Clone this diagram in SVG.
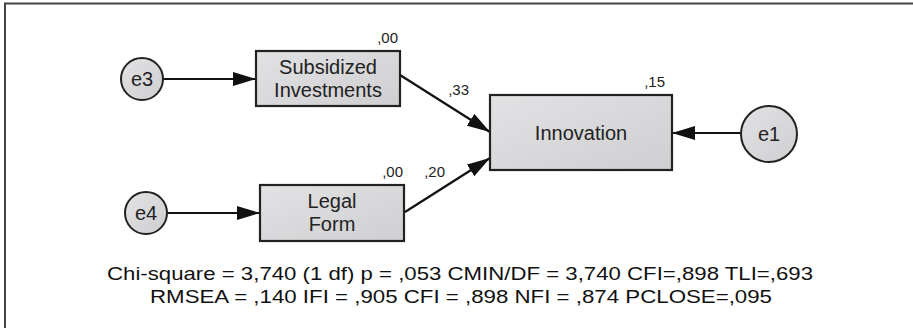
<svg xmlns="http://www.w3.org/2000/svg" width="913" height="328" viewBox="0 0 913 328">
<style>
.box{fill:url(#g);stroke:#222;stroke-width:2.2}
.err{fill:url(#g);stroke:#222;stroke-width:2}
.lbl{font-family:"Liberation Sans",Arial,sans-serif;font-size:20px;fill:#222;text-anchor:middle}
.num{font-family:"Liberation Sans",Arial,sans-serif;font-size:15px;fill:#222;text-anchor:end}
.fit{font-family:"Liberation Sans",Arial,sans-serif;font-size:19px;fill:#111;text-anchor:middle}
.con{stroke:#111;stroke-width:2.2;fill:none;marker-end:url(#ah)}
</style>
<defs>
<linearGradient id="g" x1="0" y1="0" x2="1" y2="1">
<stop offset="0" stop-color="#e2e2e4"/>
<stop offset="1" stop-color="#cfcfd1"/>
</linearGradient>
<marker id="ah" markerUnits="userSpaceOnUse" markerWidth="24" markerHeight="14" refX="23" refY="7" orient="auto">
<path d="M0,0 L23,7 L0,14 Z" fill="#111"/>
</marker>
</defs>
<rect width="913" height="328" fill="#fff"/>
<path d="M5,328 V3.5 H913" fill="none" stroke="#444" stroke-width="2"/>
<g id="connectors">
<line class="con" x1="163" y1="79" x2="256" y2="79"/>
<line class="con" x1="167" y1="213" x2="260" y2="213"/>
<line class="con" x1="400" y1="75" x2="490" y2="132"/>
<line class="con" x1="405" y1="212" x2="490" y2="158"/>
<line class="con" x1="741" y1="133" x2="672" y2="133"/>
<text class="num" x="469" y="95">,33</text>
<text class="num" x="445" y="177">,20</text>
</g>
<g id="e3">
<circle class="err" cx="142" cy="79" r="21"/>
<text class="lbl" x="142" y="86">e3</text>
</g>
<g id="e4">
<circle class="err" cx="146" cy="213" r="21"/>
<text class="lbl" x="146" y="220">e4</text>
</g>
<g id="e1">
<circle class="err" cx="769" cy="134" r="28"/>
<text class="lbl" x="769" y="141">e1</text>
</g>
<g id="subsidized">
<rect class="box" x="256" y="51" width="144" height="55"/>
<text class="lbl" x="328" y="74">Subsidized</text>
<text class="lbl" x="328" y="97">Investments</text>
<text class="num" x="398" y="43">,00</text>
</g>
<g id="legalform">
<rect class="box" x="260" y="185" width="144" height="56"/>
<text class="lbl" x="332" y="208">Legal</text>
<text class="lbl" x="332" y="231">Form</text>
<text class="num" x="403" y="177">,00</text>
</g>
<g id="innovation">
<rect class="box" x="490" y="95" width="182" height="75"/>
<text class="lbl" x="581" y="140">Innovation</text>
<text class="num" x="665" y="87">,15</text>
</g>
<g id="fit">
<text class="fit" x="460" y="280" textLength="706" lengthAdjust="spacingAndGlyphs">Chi-square = 3,740 (1 df) p = ,053 CMIN/DF = 3,740 CFI=,898 TLI=,693</text>
<text class="fit" x="461" y="303" textLength="622" lengthAdjust="spacingAndGlyphs">RMSEA = ,140 IFI = ,905 CFI = ,898 NFI = ,874 PCLOSE=,095</text>
</g>
</svg>
